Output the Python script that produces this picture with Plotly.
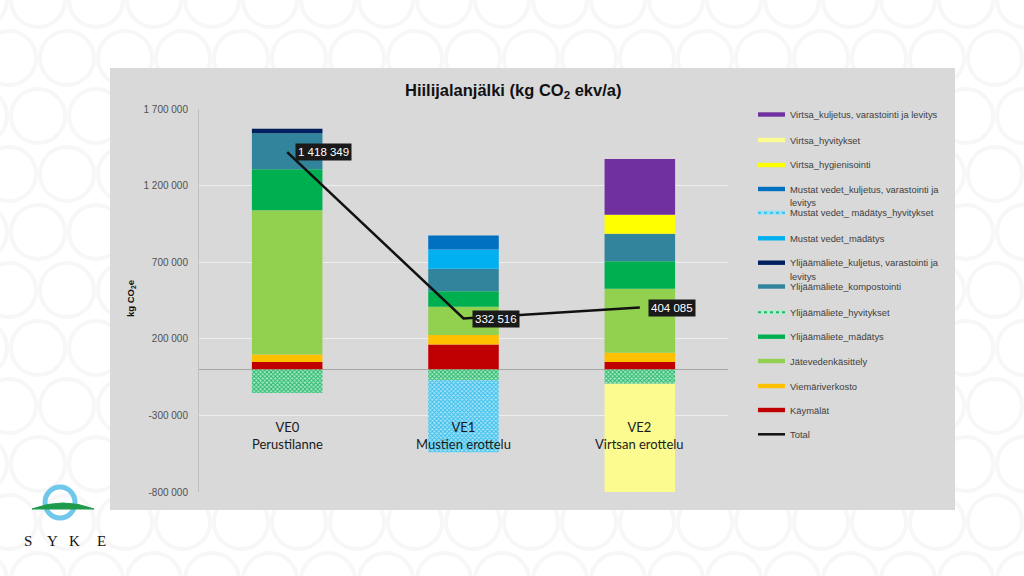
import plotly.graph_objects as go

# ---------------- data ----------------
categories = ["VE0", "VE1", "VE2"]
category_labels = ["VE0<br>Perustilanne", "VE1<br>Mustien erottelu", "VE2<br>Virtsan erottelu"]

kaymalat = [49000, 163000, 48000]
viemariverkosto = [49000, 61000, 61000]
jatevedenkasittely = [941000, 185000, 417000]
yl_madatys = [267000, 102000, 180000]
yl_hyvitykset = [-153000, -70000, -93000]
yl_kompostointi = [235000, 146000, 180000]
yl_kuljetus = [30000, None, None]
mv_madatys = [None, 126000, None]
mv_hyvitykset = [None, -471000, None]
mv_kuljetus = [None, 91000, None]
virtsa_hygienisointi = [None, None, 124000]
virtsa_hyvitykset = [None, None, -876000]
virtsa_kuljetus = [None, None, 363000]
total = [1418349, 332516, 404085]
total_labels = ["1 418 349", "332 516", "404 085"]

tick_vals = [-800000, -300000, 200000, 700000, 1200000, 1700000]
tick_text = ["-800 000", "-300 000", "200 000", "700 000", "1 200 000", "1 700 000"]

# ---------------- helpers (pixel -> paper) ----------------
L, R, T, B = 199, 296, 109, 84
W, H = 1024, 576
PW, PH = W - L - R, H - T - B


def px(x):
    return (x - L) / PW


def py(y):
    return (H - B - y) / PH


# series definitions: name, values, color, pattern
series = [
    ("Käymälät", kaymalat, "#c00000", None),
    ("Viemäriverkosto", viemariverkosto, "#ffc000", None),
    ("Jätevedenkäsittely", jatevedenkasittely, "#92d050", None),
    ("Ylijäämäliete_mädätys", yl_madatys, "#00b050", None),
    ("Ylijäämäliete_hyvitykset", yl_hyvitykset, "#9be3bb", ("#1fb566", "#a8e8c4")),
    ("Ylijäämäliete_kompostointi", yl_kompostointi, "#31849b", None),
    ("Ylijäämäliete_kuljetus, varastointi ja levitys", yl_kuljetus, "#002060", None),
    ("Mustat vedet_mädätys", mv_madatys, "#00b0f0", None),
    ("Mustat vedet_ mädätys_hyvitykset", mv_hyvitykset, "#8fd8f2", ("#30bdec", "#a8e2f6")),
    ("Mustat vedet_kuljetus, varastointi ja levitys", mv_kuljetus, "#0070c0", None),
    ("Virtsa_hygienisointi", virtsa_hygienisointi, "#ffff00", None),
    ("Virtsa_hyvitykset", virtsa_hyvitykset, "#fbfb8f", None),
    ("Virtsa_kuljetus, varastointi ja levitys", virtsa_kuljetus, "#7030a0", None),
]

fig = go.Figure()
for name, vals, color, pat in series:
    marker = dict(color=color, line=dict(width=0))
    if pat:
        marker["pattern"] = dict(shape="x", size=3, solidity=0.5,
                                 fgcolor=pat[0], bgcolor=pat[1], fillmode="replace")
    fig.add_trace(go.Bar(x=categories, y=vals, name=name, marker=marker,
                         width=0.4, showlegend=False))

fig.add_trace(go.Scatter(x=categories, y=total, mode="lines", name="Total",
                         line=dict(color="#111111", width=2.5), showlegend=False))

# total labels
for c, v, t in zip(categories, total, total_labels):
    fig.add_annotation(x=c, y=v, text=t, showarrow=False, xanchor="left", yanchor="middle",
                       xshift=8, bgcolor="#1a1a1a", borderpad=2,
                       font=dict(family="Liberation Sans Narrow, Liberation Sans, Arial", size=11.5, color="white"))

# category labels inside the plot
for c, t in zip(categories, category_labels):
    fig.add_annotation(x=c, y=-430000, text=t, showarrow=False, xanchor="center", yanchor="middle",
                       font=dict(family="Lato, Carlito, sans-serif", size=13, color="#1a1a1a"))

shapes = []
# faint background circle pattern
for j, cy in enumerate(range(0, 620, 58)):
    off = 0 if j % 2 == 0 else 29
    for cx in range(-20 + off, 1060, 58):
        r = 27
        shapes.append(dict(type="circle", xref="paper", yref="paper", layer="below",
                           x0=px(cx - r), x1=px(cx + r), y0=py(cy + r), y1=py(cy - r),
                           line=dict(color="#f7f7f7", width=4), fillcolor="rgba(0,0,0,0)"))
# gray chart box
shapes.append(dict(type="rect", xref="paper", yref="paper", layer="below",
                   x0=px(110), x1=px(955), y0=py(510), y1=py(68),
                   fillcolor="#d9d9d9", line=dict(width=0)))

# custom legend
legend_items = [
    (["Virtsa_kuljetus, varastointi ja levitys"], 114.5, "#7030a0", None),
    (["Virtsa_hyvitykset"], 140, "#fbfb8f", None),
    (["Virtsa_hygienisointi"], 165, "#ffff00", None),
    (["Mustat vedet_kuljetus, varastointi ja", "levitys"], 189, "#0070c0", None),
    (["Mustat vedet_ mädätys_hyvitykset"], 212.7, "#9fdff5", "#3cc0ec"),
    (["Mustat vedet_mädätys"], 238.3, "#00b0f0", None),
    (["Ylijäämäliete_kuljetus, varastointi ja", "levitys"], 262.7, "#002060", None),
    (["Ylijäämäliete_kompostointi"], 286.5, "#31849b", None),
    (["Ylijäämäliete_hyvitykset"], 312.3, "#b5ecd0", "#20b868"),
    (["Ylijäämäliete_mädätys"], 336.7, "#00b050", None),
    (["Jätevedenkäsittely"], 361, "#92d050", None),
    (["Viemäriverkosto"], 386, "#ffc000", None),
    (["Käymälät"], 410, "#c00000", None),
    (["Total"], 434.3, None, None),
]
for lines, yc, color, dotc in legend_items:
    if color is None:
        shapes.append(dict(type="line", xref="paper", yref="paper", x0=px(758), x1=px(785),
                           y0=py(yc), y1=py(yc), line=dict(color="#111111", width=2.5)))
    else:
        shapes.append(dict(type="rect", xref="paper", yref="paper", x0=px(758), x1=px(785),
                           y0=py(yc + 2.2), y1=py(yc - 2.2), fillcolor=color, line=dict(width=0)))
        if dotc:
            shapes.append(dict(type="line", xref="paper", yref="paper", x0=px(758), x1=px(785),
                               y0=py(yc), y1=py(yc), line=dict(color=dotc, width=2, dash="dot")))
    for k, ln in enumerate(lines):
        fig.add_annotation(xref="paper", yref="paper", x=px(788), y=py(yc + k * 13.5), text=ln,
                           showarrow=False, xanchor="left", yanchor="middle",
                           font=dict(family="Liberation Sans Narrow, Liberation Sans, Arial", size=9.4, color="#404040"))

# SYKE logo
shapes.append(dict(type="circle", xref="paper", yref="paper", x0=px(45), x1=px(75), y0=py(518), y1=py(487),
                   line=dict(color="#6fc7ec", width=5), fillcolor="rgba(0,0,0,0)"))
hill = "M {},{} Q {},{} {},{} Z".format(px(32), py(509), px(63), py(497), px(94), py(509))
shapes.append(dict(type="path", xref="paper", yref="paper", path=hill,
                   fillcolor="#1f9a4c", line=dict(color="#1f9a4c", width=1)))
for letter, cx in zip(["S", "Y", "K", "E"], [28, 52, 74, 101]):
    fig.add_annotation(xref="paper", yref="paper", x=px(cx), y=py(541), text=letter, showarrow=False,
                       xanchor="center", yanchor="middle",
                       font=dict(family="Liberation Serif, DejaVu Serif, serif", size=15, color="#111111"))

# title & axis title
fig.add_annotation(xref="paper", yref="paper", x=px(513), y=py(91),
                   text="<b>Hiilijalanjälki (kg CO<sub>2</sub> ekv/a)</b>", showarrow=False,
                   xanchor="center", yanchor="middle",
                   font=dict(family="Liberation Sans, Arial", size=16.5, color="#111111"))
fig.add_annotation(xref="paper", yref="paper", x=px(131), y=py(299),
                   text="<b>kg CO<sub>2</sub>e</b>", showarrow=False, textangle=-90,
                   xanchor="center", yanchor="middle",
                   font=dict(family="Liberation Sans, Arial", size=9.5, color="#111111"))

fig.update_layout(
    width=W, height=H,
    margin=dict(l=L, r=R, t=T, b=B, pad=0),
    paper_bgcolor="white",
    plot_bgcolor="#d9d9d9",
    barmode="relative",
    showlegend=False,
    shapes=shapes,
    xaxis=dict(range=[-0.5, 2.5], showticklabels=False, showgrid=False, zeroline=False,
               showline=False, ticks=""),
    yaxis=dict(range=[-800000, 1700000], tickvals=tick_vals, ticktext=tick_text,
               showgrid=True, gridcolor="#eeeeee", gridwidth=1,
               zeroline=True, zerolinecolor="#a6a6a6", zerolinewidth=1,
               showline=True, linecolor="#bfbfbf", linewidth=1, ticks="",
               ticklabelstandoff=8,
               tickfont=dict(family="Liberation Sans, Arial", size=10, color="#505050")),
)

fig.write_html("out.html")
